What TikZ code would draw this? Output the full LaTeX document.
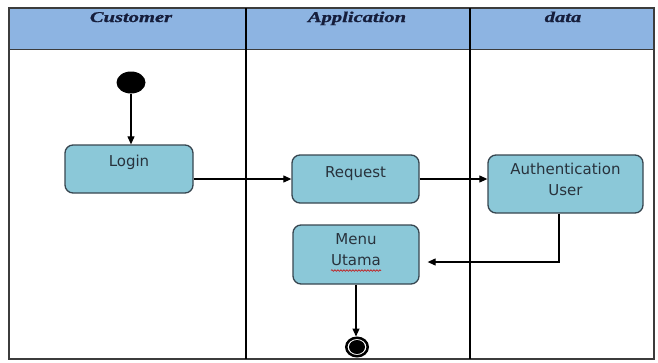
\documentclass[tikz,border=0pt]{standalone}
\usepackage{fontspec}
\usepackage{graphicx}
\setmainfont{Liberation Serif}
\newfontfamily\headfont{Liberation Serif}[BoldItalicFeatures={FakeBold=0.8}]
\newfontfamily\boxfont{DejaVu Sans}
\usetikzlibrary{arrows.meta,shapes.geometric,decorations.pathmorphing}
\definecolor{headfill}{RGB}{141,180,226}
\definecolor{boxfill}{RGB}{139,200,216}
\definecolor{boxedge}{RGB}{55,70,80}
\definecolor{headtext}{RGB}{22,30,60}
\definecolor{boxtext}{RGB}{40,50,60}
\definecolor{framecol}{RGB}{60,60,60}
\begin{document}
\begin{tikzpicture}[x=1pt,y=-1pt,
  frame/.style={draw=framecol,line width=1.6pt},
  lane/.style={draw=black,line width=1.2pt},
  headtxt/.style={anchor=base,text=headtext,font=\headfont\fontsize{15}{18}\selectfont\bfseries\itshape},
  actbox/.style={draw=boxedge,line width=1.3pt,fill=boxfill,rounded corners=8pt,text=boxtext,font=\boxfont\fontsize{15}{21}\selectfont,align=center,inner sep=0pt},
  flow/.style={draw=black,line width=1.1pt,-{Triangle[length=8pt,width=7pt]}},
  startst/.style={ellipse,fill=black,minimum width=29pt,minimum height=22pt,inner sep=0pt},
  endst/.style={ellipse,draw=black,line width=2.5pt,minimum width=21.5pt,minimum height=18.5pt,inner sep=0pt},
]
\useasboundingbox (0,0) rectangle (658,362);
% swimlane frame
\fill[headfill] (9,8) rectangle (654,49.5);
\draw[frame] (9,8) rectangle (654,359);
\draw[frame] (9,49.5) -- (654,49.5);
\draw[lane] (246,8) -- (246,359);
\draw[lane] (470,8) -- (470,359);
% headers
\node[headtxt] (hcust) at (131,22) {\scalebox{1.37}[1]{Customer}};
\node[headtxt] (happ) at (357,22) {\scalebox{1.37}[1]{Application}};
\node[headtxt] (hdata) at (563,22) {\scalebox{1.37}[1]{data}};
% nodes
\node[startst] (start) at (131,82.5) {};
\node[actbox,minimum width=128pt,minimum height=48pt,text height=11pt,text depth=17pt] (login) at (129,169) {Login};
\node[actbox,minimum width=127pt,minimum height=48pt,text height=11pt,text depth=15pt] (request) at (355.5,179) {Request};
\node[actbox,minimum width=155pt,minimum height=58pt] (auth) at (565.5,184) {Authentication\\User\rule[-10pt]{0pt}{0pt}};
\node[actbox,minimum width=126pt,minimum height=59pt] (menu) at (356,254.5) {Menu\\Utama\rule[-10pt]{0pt}{0pt}};
\node[endst] (final) at (357,347) {};
\fill (final.center) ellipse (8pt and 7pt);
% spell-check squiggle under "Utama"
\draw[red!80!black,line width=0.6pt,decorate,decoration={snake,amplitude=0.8pt,segment length=3pt}] ([shift={(-25,16)}]menu.center) -- ++(50,0);
% connectors
\coordinate (mtip) at ([shift={(8,7.5)}]menu.east);
\draw[flow] (start) -- (start |- login.north);
\draw[flow] (login.east |- request) -- (request.west);
\draw[flow] (request.east) -- (request -| auth.west);
\draw[flow] ([xshift=-6.5pt]auth.south) |- (mtip);
\draw[flow] (menu.south) -- (menu.south |- final.north);
\end{tikzpicture}
\end{document}
